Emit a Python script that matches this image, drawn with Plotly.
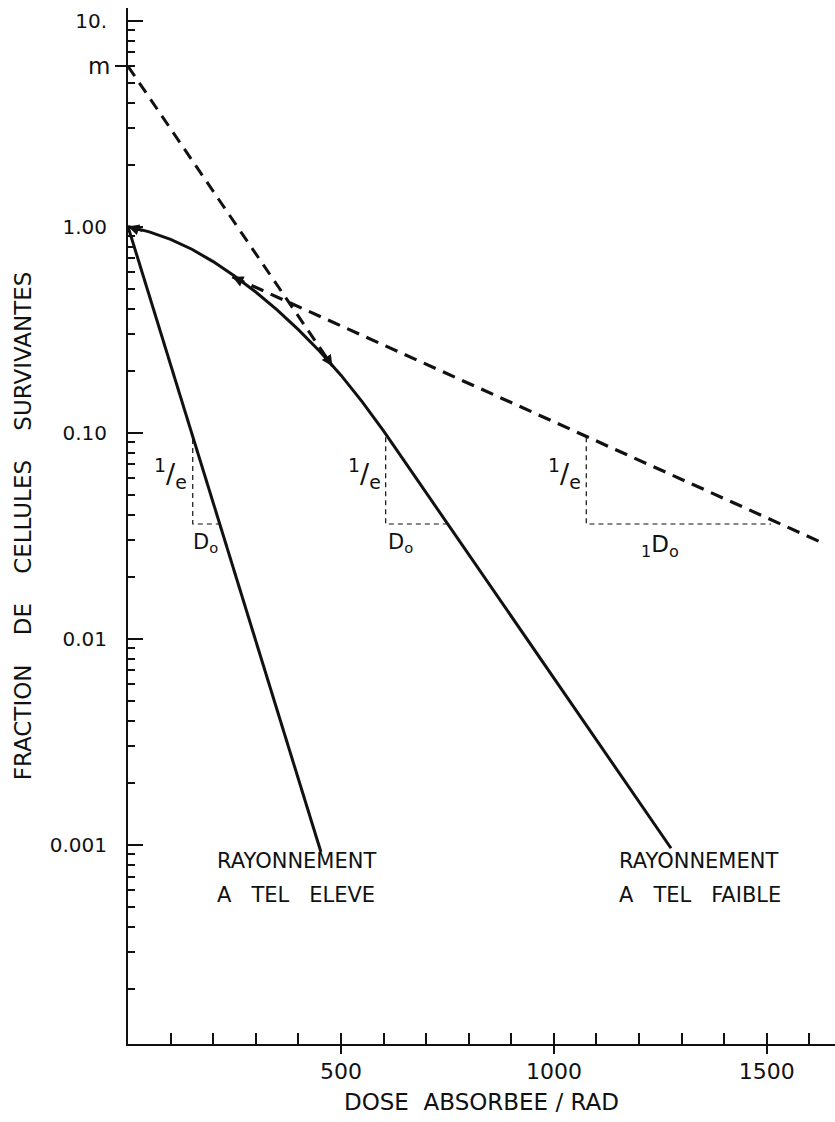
import math
import plotly.graph_objects as go

# ---------------- data (dose in rad, surviving fraction) ----------------
high_let_dose = [0, 453]
high_let_surv = [1.0, 0.00092]

low_let_dose = [0, 50, 100, 150, 200, 250, 300, 350, 400, 450, 500, 550, 600, 1275]
low_let_surv = [1.0, 0.942, 0.867, 0.776, 0.676, 0.575, 0.481, 0.394, 0.316, 0.248,
                0.190, 0.141, 0.102, 0.00096]

extrap_dose = [0, 480]          # final-slope extrapolation to m
extrap_surv = [6.0, 0.21]

init_dose = [245, 1625]         # initial-slope (1D0) line
init_surv = [0.57, 0.0295]

tri_high_dose = [152, 152, 217]
tri_high_surv = [0.093, 0.036, 0.036]
tri_low_dose = [605, 605, 748]
tri_low_surv = [0.095, 0.036, 0.036]
tri_init_dose = [1076, 1076, 1510]
tri_init_surv = [0.095, 0.036, 0.036]

y_tick_vals = [10, 1, 0.1, 0.01, 0.001]
y_tick_text = ["10.", "1.00", "0.10", "0.01", "0.001"]
x_tick_vals = [500, 1000, 1500]
x_tick_text = ["500", "1000", "1500"]
m_value = 6.0

X_RANGE = [0, 1660]
Y_RANGE = [-3.968, 1.061]

FONT = "DejaVu Sans"
BLACK = "#111111"

fig = go.Figure()

# solid curves
fig.add_trace(go.Scatter(x=high_let_dose, y=high_let_surv, mode="lines",
                         line=dict(color=BLACK, width=3), showlegend=False))
fig.add_trace(go.Scatter(x=low_let_dose, y=low_let_surv, mode="lines",
                         line=dict(color=BLACK, width=3), showlegend=False))
# thick dashed lines
fig.add_trace(go.Scatter(x=extrap_dose, y=extrap_surv, mode="lines",
                         line=dict(color=BLACK, width=3, dash="12px,8px"), showlegend=False))
fig.add_trace(go.Scatter(x=init_dose, y=init_surv, mode="lines",
                         line=dict(color=BLACK, width=3.2, dash="13px,8px"), showlegend=False))
# thin dashed 1/e triangles
for dx, sy in [(tri_high_dose, tri_high_surv), (tri_low_dose, tri_low_surv),
               (tri_init_dose, tri_init_surv)]:
    fig.add_trace(go.Scatter(x=dx, y=sy, mode="lines",
                             line=dict(color=BLACK, width=1.2, dash="5px,4px"),
                             showlegend=False))

# invisible trace on overlay axes (extra tick marks)
fig.add_trace(go.Scatter(x=[X_RANGE[0]], y=[1.0], xaxis="x2", yaxis="y2", mode="markers",
                         marker=dict(opacity=0), showlegend=False, hoverinfo="skip"))

minor_y = [k * 10 ** e for e in range(-4, 1) for k in range(2, 10)
           if Y_RANGE[0] <= math.log10(k * 10 ** e) <= Y_RANGE[1]]

fig.update_layout(
    width=835, height=1122,
    margin=dict(l=128, r=0, t=8, b=78),
    paper_bgcolor="white", plot_bgcolor="white",
    showlegend=False,
    xaxis=dict(range=X_RANGE, showgrid=False, zeroline=False,
               showline=True, linecolor=BLACK, linewidth=2,
               tickvals=x_tick_vals, ticktext=x_tick_text,
               ticks="inside", ticklen=10, tickwidth=2, tickcolor=BLACK,
               tickfont=dict(family=FONT, size=22, color=BLACK), ticklabelstandoff=7,
               minor=dict(tickvals=list(range(100, 1700, 100)), ticks="inside",
                          ticklen=11, tickwidth=2, tickcolor=BLACK),
               title=dict(text="DOSE  ABSORBEE / RAD",
                          font=dict(family=FONT, size=23, color=BLACK), standoff=10)),
    yaxis=dict(type="log", range=Y_RANGE, showgrid=False, zeroline=False,
               showline=True, linecolor=BLACK, linewidth=2,
               tickvals=y_tick_vals, ticktext=y_tick_text,
               ticks="inside", ticklen=15, tickwidth=2, tickcolor=BLACK,
               tickfont=dict(family=FONT, size=20, color=BLACK), ticklabelstandoff=15,
               minor=dict(tickvals=minor_y, ticks="inside", ticklen=7,
                          tickwidth=2, tickcolor=BLACK),
               title=dict(text="FRACTION    DE    CELLULES    SURVIVANTES",
                          font=dict(family=FONT, size=23, color=BLACK), standoff=12)),
    xaxis2=dict(overlaying="x", anchor="y", side="bottom", range=X_RANGE,
                showgrid=False, zeroline=False, showline=False,
                tickvals=x_tick_vals, ticktext=["", "", ""], ticks="outside",
                ticklen=9, tickwidth=2, tickcolor=BLACK),
    yaxis2=dict(overlaying="y", anchor="x", side="left", type="log", range=Y_RANGE,
                showgrid=False, zeroline=False, showline=False,
                tickvals=[m_value], ticktext=["m"], ticks="outside",
                ticklen=12, tickwidth=2, tickcolor=BLACK,
                tickfont=dict(family=FONT, size=23, color=BLACK)),
)

ann_font = dict(family=FONT, size=21, color=BLACK)
frac_font = dict(family=FONT, size=27, color=BLACK)

def L(v):
    return math.log10(v)

# 1/e labels
for xd, yv in [(100, 0.063), (556, 0.063), (1026, 0.063)]:
    fig.add_annotation(x=xd, y=L(yv), text="<sup>1</sup>/<sub>e</sub>", showarrow=False,
                       font=frac_font)
# D0 labels
fig.add_annotation(x=183, y=L(0.029), text="D<sub>o</sub>", showarrow=False, font=ann_font)
fig.add_annotation(x=640, y=L(0.029), text="D<sub>o</sub>", showarrow=False, font=ann_font)
fig.add_annotation(x=1250, y=L(0.028), text="<sub>1</sub>D<sub>o</sub>", showarrow=False,
                   font=dict(family=FONT, size=23, color=BLACK))
# curve labels (two lines each)
for xd, lines in [(205, ["RAYONNEMENT", "A   TEL   ELEVE"]),
                  (1147, ["RAYONNEMENT", "A   TEL   FAIBLE"])]:
    fig.add_annotation(x=xd, y=L(0.00083), text=lines[0], showarrow=False,
                       xanchor="left", font=ann_font)
    fig.add_annotation(x=xd, y=L(0.00057), text=lines[1], showarrow=False,
                       xanchor="left", font=ann_font)

# small arrowheads where lines meet
arrow_common = dict(text="", showarrow=True, arrowhead=2, arrowsize=1.1, arrowwidth=2,
                    arrowcolor=BLACK, axref="pixel", ayref="pixel")
fig.add_annotation(x=low_let_dose[0], y=L(low_let_surv[0]), ax=16, ay=5, **arrow_common)
fig.add_annotation(x=init_dose[0], y=L(init_surv[0]), ax=13, ay=6, **arrow_common)
fig.add_annotation(x=extrap_dose[1], y=L(extrap_surv[1]), ax=-8, ay=-12, **arrow_common)

fig.write_html("out.html")
